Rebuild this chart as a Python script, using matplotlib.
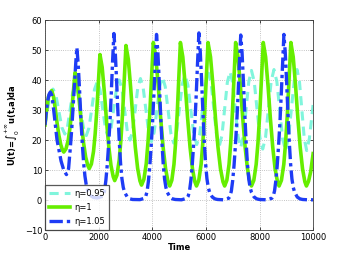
import matplotlib
matplotlib.use("Agg")
import matplotlib.pyplot as plt

# eta = 0.95 (teal, dashed)
t_095 = [0, 100, 200, 300, 410, 520, 630, 740, 838, 935, 1032, 1130,
         1232, 1335, 1438, 1540, 1642, 1745, 1848, 1950,
         2052, 2155, 2258, 2360, 2462, 2565, 2668, 2770,
         2870, 2970, 3070, 3170, 3268, 3365, 3462, 3560,
         3662, 3765, 3868, 3970, 4072, 4175, 4278, 4380,
         4485, 4590, 4695, 4800, 4905, 5010, 5115, 5220,
         5330, 5440, 5550, 5660, 5770, 5880, 5990, 6100,
         6200, 6300, 6400, 6500, 6600, 6700, 6800, 6900,
         7000, 7100, 7200, 7300, 7400, 7500, 7600, 7700,
         7805, 7910, 8015, 8120, 8225, 8330, 8435, 8540,
         8647, 8755, 8862, 8970, 9077, 9185, 9292, 9400,
         9490, 9580, 9670, 9760, 9860, 9960, 10000]
u_095 = [25, 30.5, 35, 37, 34.8, 29.5, 24.2, 22, 24.3, 30, 35.7, 38,
         35.6, 29.8, 23.9, 21.5, 24.1, 30.5, 36.9, 39.5,
         36.8, 30.2, 23.7, 21, 23.8, 30.5, 37.2, 40,
         37.1, 30, 22.9, 20, 23, 30.2, 37.5, 40.5,
         37.4, 30, 22.6, 19.5, 22.6, 30.2, 37.9, 41,
         37.8, 30, 22.2, 19, 22.3, 30.3, 38.4, 41.7,
         38.3, 30.1, 21.9, 18.5, 22, 30.4, 38.8, 42.3,
         38.7, 30.1, 21.6, 18, 21.6, 30.4, 39.2, 42.8,
         39.1, 30.1, 21.2, 17.5, 21.3, 30.3, 39.4, 43.2,
         39.4, 30.1, 20.8, 17, 20.9, 30.2, 39.6, 43.5,
         39.5, 30, 20.5, 16.5, 20.5, 30, 39.5, 43.5,
         39.5, 30, 20.5, 16.5, 20.5, 28.5, 32]

# eta = 1 (green, solid)
t_100 = [0, 60, 130, 250, 318, 385, 452, 520, 588, 655, 700,
         784, 868, 931, 994, 1057, 1120,
         1200, 1279, 1359, 1438, 1518, 1597, 1650,
         1730, 1810, 1870, 1930, 1990, 2050,
         2132, 2215, 2297, 2380, 2462, 2545, 2600,
         2684, 2768, 2831, 2894, 2957, 3020,
         3107, 3194, 3281, 3368, 3455, 3542, 3600,
         3688, 3776, 3842, 3908, 3974, 4040,
         4132, 4223, 4315, 4406, 4498, 4589, 4650,
         4730, 4810, 4870, 4930, 4990, 5050,
         5140, 5230, 5320, 5410, 5500, 5590, 5650,
         5736, 5822, 5886, 5951, 6016, 6080,
         6173, 6266, 6359, 6452, 6545, 6638, 6700,
         6782, 6864, 6926, 6987, 7049, 7110,
         7198, 7287, 7376, 7464, 7552, 7641, 7700,
         7788, 7876, 7942, 8008, 8074, 8140,
         8228, 8317, 8406, 8494, 8582, 8671, 8730,
         8818, 8906, 8972, 9038, 9104, 9170,
         9257, 9344, 9431, 9518, 9605, 9692, 9750,
         9830, 9910, 10000]
u_100 = [25, 30, 34.5, 36.5, 34.5, 30.4, 25.6, 21.5, 18.5, 16.6, 16,
         17.1, 20, 24, 29.3, 35.9, 42.5,
         39.3, 32.9, 25.5, 19.1, 14.3, 11.5, 10.5,
         12, 16.2, 21.9, 29.5, 39, 48.5,
         44.3, 35.9, 26.2, 17.8, 11.5, 7.8, 6.5,
         8.3, 13.3, 20, 29, 40.3, 51.5,
         46.9, 37.6, 26.9, 17.6, 10.6, 6.4, 5,
         6.9, 12.1, 19.3, 28.8, 40.6, 52.5,
         47.7, 38.2, 27.2, 17.6, 10.4, 6.1, 4.7,
         6.6, 11.9, 19, 28.6, 40.6, 52.5,
         47.7, 38.2, 27.2, 17.6, 10.4, 6.1, 4.7,
         6.6, 11.9, 19, 28.6, 40.6, 52.5,
         47.7, 38.2, 27.2, 17.6, 10.4, 6.1, 4.7,
         6.6, 11.9, 19, 28.6, 40.6, 52.5,
         47.7, 38.2, 27.2, 17.6, 10.4, 6.1, 4.7,
         6.6, 11.9, 19, 28.6, 40.6, 52.5,
         47.7, 38.2, 27.2, 17.6, 10.4, 6.1, 4.7,
         6.6, 11.9, 19, 28.6, 40.6, 52.5,
         47.7, 38.2, 27.2, 17.6, 10.4, 6.1, 4.7,
         6.3, 9.5, 15.5]

# eta = 1.05 (blue, dash-dot)
t_105 = [0, 50, 100, 150, 200, 250, 300, 350, 400, 450, 520, 600, 700, 800,
         880, 950, 1000, 1050, 1100, 1150, 1190,
         1240, 1290, 1340, 1390, 1440, 1490, 1540, 1600, 1700, 1800, 1950, 2050,
         2170, 2220, 2270, 2320, 2370, 2420, 2470, 2520, 2570,
         2620, 2670, 2720, 2770, 2820, 2870, 2920, 2970, 3070, 3170, 3270, 3540, 3710,
         3760, 3810, 3860, 3910, 3960, 4010, 4060, 4110, 4160,
         4210, 4260, 4310, 4360, 4410, 4460, 4510, 4560, 4660, 4760, 4860, 5090, 5290,
         5340, 5390, 5440, 5490, 5540, 5590, 5640, 5690, 5740,
         5790, 5840, 5890, 5940, 5990, 6040, 6090, 6140, 6240, 6340, 6440, 6650, 6850,
         6900, 6950, 7000, 7050, 7100, 7150, 7200, 7250, 7300,
         7350, 7400, 7450, 7500, 7550, 7600, 7650, 7700, 7800, 7900, 8000, 8260, 8460,
         8510, 8560, 8610, 8660, 8710, 8760, 8810, 8860, 8910,
         8960, 9010, 9060, 9110, 9160, 9210, 9260, 9310, 9410, 9510, 9610, 9800, 10000]
u_105 = [25, 29.5, 33, 35.2, 36, 35, 32, 28, 24, 20, 16.7, 13, 10, 8.5,
         10.5, 18, 24, 31, 38.5, 46, 50.8,
         45, 36.5, 27, 19, 12.5, 8, 5, 3, 1.5, 0.9, 0.7, 1,
         1.3, 3, 6.5, 11.5, 18, 25.5, 35, 46, 55.5,
         49.5, 40, 29.3, 19.7, 12.1, 7.1, 4.2, 2.6, 1, 0.4, 0.2, 0.15, 0.6,
         1.3, 3, 6.5, 11.5, 18, 25.5, 35, 45.5, 55.2,
         49.2, 39.6, 29.1, 19.5, 12, 7, 4.2, 2.6, 1, 0.4, 0.2, 0.1, 0.6,
         1.3, 3, 6.5, 11.5, 18, 25.5, 35, 45.8, 55.7,
         49.6, 40, 29.3, 19.7, 12.1, 7.1, 4.2, 2.6, 1, 0.4, 0.2, 0.1, 0.6,
         1.3, 3, 6.5, 11.5, 18, 25.5, 35, 45.5, 55,
         49, 39.5, 29, 19.5, 12, 7, 4.2, 2.6, 1, 0.4, 0.2, 0.1, 0.6,
         1.3, 3, 6.5, 11.5, 18, 25.5, 35, 45.5, 55.2,
         49.2, 39.6, 29.1, 19.5, 12, 7, 4.2, 2.6, 1, 0.4, 0.2, 0.1, 0.1]

labels = ['\u03b7=0.95', '\u03b7=1', '\u03b7=1.05']

plt.rcParams['font.size'] = 6
plt.rcParams['xtick.direction'] = 'in'
plt.rcParams['ytick.direction'] = 'in'

fig = plt.figure(figsize=(3.46, 2.6), dpi=100)
ax = fig.add_axes([0.130, 0.115, 0.775, 0.808])

ax.plot(t_095, u_095, color='#80f5dc', lw=2.2, ls=(0, (3, 2)), label=labels[0])
ax.plot(t_100, u_100, color='#66ee00', lw=2.6, ls='-', label=labels[1])
ax.plot(t_105, u_105, color='#1e3cf5', lw=2.4, ls=(0, (4, 1.2, 1, 1.2)), label=labels[2])

ax.set_xlim(0, 10000)
ax.set_ylim(-10, 60)
ax.set_xticks(range(0, 10001, 2000))
ax.set_yticks(range(-10, 61, 10))
ax.grid(True, ls=':', color='#b0b0b0', lw=0.6)
ax.tick_params(length=2, width=0.5, top=True, right=True, pad=2)
for s in ax.spines.values():
    s.set_linewidth(0.6)
    s.set_color('#404040')

ax.set_xlabel('Time', fontweight='bold', labelpad=1)
ax.set_ylabel(r'U(t)=$\int_0^{+\infty}$u(t,a)da', fontweight='bold', labelpad=2)

leg = ax.legend(loc='lower left', fancybox=False, edgecolor='#303030',
                borderaxespad=0, handlelength=2.6, handletextpad=0.5,
                fontsize=6, borderpad=0.45, labelspacing=0.65)
leg.get_frame().set_linewidth(0.9)

fig.savefig('out.png', dpi=100)
